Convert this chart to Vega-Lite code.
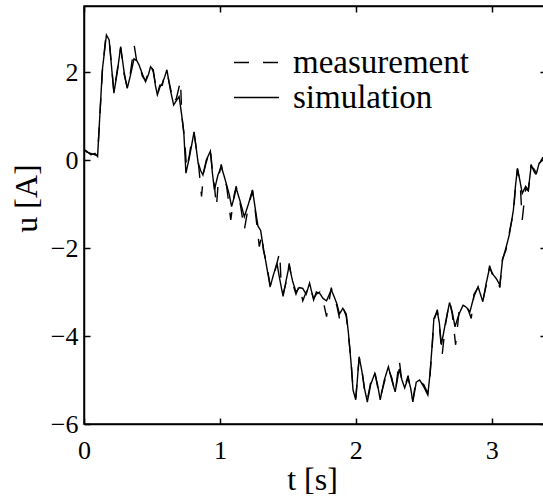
{
 "$schema": "https://vega.github.io/schema/vega-lite/v6.json",
 "width": 462,
 "height": 418,
 "autosize": {"type": "none"},
 "padding": {"left": 84, "top": 6, "right": 0, "bottom": 78},
 "background": "white",
 "config": {
  "view": {"stroke": "black", "strokeWidth": 1.5},
  "font": "Liberation Serif",
  "axis": {
   "domainColor": "black", "domainWidth": 1.5, "tickColor": "black", "tickWidth": 1.5, "tickSize": -6,
   "labelFont": "Liberation Serif", "labelFontSize": 26, "labelColor": "black", "labelFlush": false,
   "titleFont": "Liberation Serif", "titleFontSize": 32, "titleFontWeight": "normal", "titleColor": "black",
   "grid": false
  },
  "legend": {"labelFont": "Liberation Serif"}
 },
 "data": {"values": [
  {"t":0.0,"u":0.22,"s":"simulation"},{"t":0.02,"u":0.2,"s":"simulation"},{"t":0.05,"u":0.12,"s":"simulation"},{"t":0.08,"u":0.15,"s":"simulation"},{"t":0.1,"u":0.08,"s":"simulation"},{"t":0.135,"u":2.05,"s":"simulation"},{"t":0.165,"u":2.84,"s":"simulation"},{"t":0.185,"u":2.73,"s":"simulation"},{"t":0.22,"u":1.52,"s":"simulation"},{"t":0.245,"u":2.0,"s":"simulation"},{"t":0.27,"u":2.58,"s":"simulation"},{"t":0.295,"u":2.0,"s":"simulation"},{"t":0.318,"u":1.63,"s":"simulation"},{"t":0.34,"u":1.9,"s":"simulation"},{"t":0.368,"u":2.3,"s":"simulation"},{"t":0.39,"u":2.25,"s":"simulation"},{"t":0.405,"u":2.16,"s":"simulation"},{"t":0.43,"u":1.95,"s":"simulation"},{"t":0.453,"u":1.78,"s":"simulation"},{"t":0.475,"u":1.95,"s":"simulation"},{"t":0.49,"u":2.12,"s":"simulation"},{"t":0.51,"u":2.05,"s":"simulation"},{"t":0.525,"u":1.7,"s":"simulation"},{"t":0.54,"u":1.48,"s":"simulation"},{"t":0.558,"u":1.65,"s":"simulation"},{"t":0.576,"u":1.74,"s":"simulation"},{"t":0.595,"u":1.9,"s":"simulation"},{"t":0.61,"u":2.05,"s":"simulation"},{"t":0.635,"u":1.6,"s":"simulation"},{"t":0.66,"u":1.25,"s":"simulation"},{"t":0.68,"u":1.35,"s":"simulation"},{"t":0.7,"u":1.44,"s":"simulation"},{"t":0.72,"u":1.0,"s":"simulation"},{"t":0.735,"u":0.6,"s":"simulation"},{"t":0.75,"u":-0.3,"s":"simulation"},{"t":0.775,"u":0.05,"s":"simulation"},{"t":0.79,"u":0.3,"s":"simulation"},{"t":0.81,"u":0.64,"s":"simulation"},{"t":0.84,"u":-0.07,"s":"simulation"},{"t":0.86,"u":-0.25,"s":"simulation"},{"t":0.875,"u":-0.34,"s":"simulation"},{"t":0.9,"u":0.0,"s":"simulation"},{"t":0.93,"u":0.2,"s":"simulation"},{"t":0.945,"u":-0.3,"s":"simulation"},{"t":0.96,"u":-0.68,"s":"simulation"},{"t":0.985,"u":-0.35,"s":"simulation"},{"t":1.01,"u":-0.15,"s":"simulation"},{"t":1.03,"u":-0.35,"s":"simulation"},{"t":1.05,"u":-0.57,"s":"simulation"},{"t":1.07,"u":-0.8,"s":"simulation"},{"t":1.086,"u":-1.06,"s":"simulation"},{"t":1.105,"u":-0.85,"s":"simulation"},{"t":1.12,"u":-0.64,"s":"simulation"},{"t":1.15,"u":-0.95,"s":"simulation"},{"t":1.18,"u":-1.29,"s":"simulation"},{"t":1.21,"u":-1.0,"s":"simulation"},{"t":1.24,"u":-0.68,"s":"simulation"},{"t":1.26,"u":-1.1,"s":"simulation"},{"t":1.28,"u":-1.5,"s":"simulation"},{"t":1.3,"u":-1.6,"s":"simulation"},{"t":1.32,"u":-2.0,"s":"simulation"},{"t":1.34,"u":-2.35,"s":"simulation"},{"t":1.37,"u":-2.88,"s":"simulation"},{"t":1.395,"u":-2.6,"s":"simulation"},{"t":1.42,"u":-2.35,"s":"simulation"},{"t":1.44,"u":-2.7,"s":"simulation"},{"t":1.465,"u":-3.1,"s":"simulation"},{"t":1.49,"u":-2.7,"s":"simulation"},{"t":1.51,"u":-2.4,"s":"simulation"},{"t":1.535,"u":-2.75,"s":"simulation"},{"t":1.56,"u":-3.0,"s":"simulation"},{"t":1.585,"u":-2.9,"s":"simulation"},{"t":1.61,"u":-2.92,"s":"simulation"},{"t":1.635,"u":-3.05,"s":"simulation"},{"t":1.66,"u":-2.8,"s":"simulation"},{"t":1.69,"u":-3.18,"s":"simulation"},{"t":1.71,"u":-3.0,"s":"simulation"},{"t":1.735,"u":-3.03,"s":"simulation"},{"t":1.76,"u":-3.15,"s":"simulation"},{"t":1.785,"u":-3.2,"s":"simulation"},{"t":1.82,"u":-2.95,"s":"simulation"},{"t":1.84,"u":-3.1,"s":"simulation"},{"t":1.86,"u":-3.26,"s":"simulation"},{"t":1.88,"u":-3.5,"s":"simulation"},{"t":1.905,"u":-3.37,"s":"simulation"},{"t":1.93,"u":-3.5,"s":"simulation"},{"t":1.945,"u":-3.9,"s":"simulation"},{"t":1.965,"u":-4.6,"s":"simulation"},{"t":1.98,"u":-5.23,"s":"simulation"},{"t":2.0,"u":-5.45,"s":"simulation"},{"t":2.025,"u":-4.47,"s":"simulation"},{"t":2.045,"u":-4.8,"s":"simulation"},{"t":2.065,"u":-5.2,"s":"simulation"},{"t":2.085,"u":-5.5,"s":"simulation"},{"t":2.11,"u":-5.1,"s":"simulation"},{"t":2.14,"u":-4.85,"s":"simulation"},{"t":2.16,"u":-5.1,"s":"simulation"},{"t":2.18,"u":-5.45,"s":"simulation"},{"t":2.21,"u":-5.0,"s":"simulation"},{"t":2.24,"u":-4.7,"s":"simulation"},{"t":2.265,"u":-5.0,"s":"simulation"},{"t":2.29,"u":-5.27,"s":"simulation"},{"t":2.32,"u":-4.75,"s":"simulation"},{"t":2.34,"u":-5.0,"s":"simulation"},{"t":2.36,"u":-5.18,"s":"simulation"},{"t":2.385,"u":-4.95,"s":"simulation"},{"t":2.405,"u":-5.2,"s":"simulation"},{"t":2.42,"u":-5.5,"s":"simulation"},{"t":2.445,"u":-5.05,"s":"simulation"},{"t":2.47,"u":-5.0,"s":"simulation"},{"t":2.5,"u":-5.15,"s":"simulation"},{"t":2.53,"u":-5.34,"s":"simulation"},{"t":2.545,"u":-4.9,"s":"simulation"},{"t":2.56,"u":-4.3,"s":"simulation"},{"t":2.575,"u":-3.6,"s":"simulation"},{"t":2.6,"u":-3.45,"s":"simulation"},{"t":2.615,"u":-3.7,"s":"simulation"},{"t":2.63,"u":-4.2,"s":"simulation"},{"t":2.66,"u":-3.7,"s":"simulation"},{"t":2.69,"u":-3.24,"s":"simulation"},{"t":2.71,"u":-3.45,"s":"simulation"},{"t":2.73,"u":-3.79,"s":"simulation"},{"t":2.76,"u":-3.5,"s":"simulation"},{"t":2.79,"u":-3.3,"s":"simulation"},{"t":2.815,"u":-3.35,"s":"simulation"},{"t":2.84,"u":-3.45,"s":"simulation"},{"t":2.87,"u":-3.1,"s":"simulation"},{"t":2.9,"u":-2.88,"s":"simulation"},{"t":2.935,"u":-3.22,"s":"simulation"},{"t":2.96,"u":-2.8,"s":"simulation"},{"t":2.985,"u":-2.45,"s":"simulation"},{"t":3.01,"u":-2.6,"s":"simulation"},{"t":3.035,"u":-2.7,"s":"simulation"},{"t":3.06,"u":-2.84,"s":"simulation"},{"t":3.08,"u":-2.27,"s":"simulation"},{"t":3.105,"u":-2.0,"s":"simulation"},{"t":3.13,"u":-1.7,"s":"simulation"},{"t":3.16,"u":-1.14,"s":"simulation"},{"t":3.175,"u":-0.6,"s":"simulation"},{"t":3.19,"u":-0.19,"s":"simulation"},{"t":3.21,"u":-0.5,"s":"simulation"},{"t":3.225,"u":-0.76,"s":"simulation"},{"t":3.25,"u":-0.6,"s":"simulation"},{"t":3.27,"u":-0.68,"s":"simulation"},{"t":3.29,"u":-0.15,"s":"simulation"},{"t":3.31,"u":-0.2,"s":"simulation"},{"t":3.33,"u":-0.3,"s":"simulation"},{"t":3.35,"u":-0.07,"s":"simulation"},{"t":3.375,"u":0.0,"s":"simulation"},{"t":3.4,"u":0.05,"s":"simulation"},
  {"t":0.0,"u":0.25,"s":"measurement"},{"t":0.02,"u":0.18,"s":"measurement"},{"t":0.05,"u":0.15,"s":"measurement"},{"t":0.08,"u":0.12,"s":"measurement"},{"t":0.1,"u":0.1,"s":"measurement"},{"t":0.135,"u":2.0,"s":"measurement"},{"t":0.16,"u":2.8,"s":"measurement"},{"t":0.185,"u":2.75,"s":"measurement"},{"t":0.22,"u":1.55,"s":"measurement"},{"t":0.245,"u":2.05,"s":"measurement"},{"t":0.27,"u":2.55,"s":"measurement"},{"t":0.295,"u":1.95,"s":"measurement"},{"t":0.318,"u":1.65,"s":"measurement"},{"t":0.34,"u":1.95,"s":"measurement"},{"t":0.37,"u":2.6,"s":"measurement"},{"t":0.39,"u":2.2,"s":"measurement"},{"t":0.405,"u":2.2,"s":"measurement"},{"t":0.43,"u":1.9,"s":"measurement"},{"t":0.453,"u":1.8,"s":"measurement"},{"t":0.475,"u":2.0,"s":"measurement"},{"t":0.49,"u":2.15,"s":"measurement"},{"t":0.51,"u":2.0,"s":"measurement"},{"t":0.525,"u":1.75,"s":"measurement"},{"t":0.54,"u":1.5,"s":"measurement"},{"t":0.558,"u":1.7,"s":"measurement"},{"t":0.576,"u":1.7,"s":"measurement"},{"t":0.595,"u":1.95,"s":"measurement"},{"t":0.61,"u":2.0,"s":"measurement"},{"t":0.635,"u":1.65,"s":"measurement"},{"t":0.66,"u":1.3,"s":"measurement"},{"t":0.68,"u":1.4,"s":"measurement"},{"t":0.71,"u":1.8,"s":"measurement"},{"t":0.72,"u":1.0,"s":"measurement"},{"t":0.74,"u":0.5,"s":"measurement"},{"t":0.755,"u":-0.2,"s":"measurement"},{"t":0.775,"u":0.1,"s":"measurement"},{"t":0.79,"u":0.4,"s":"measurement"},{"t":0.81,"u":0.6,"s":"measurement"},{"t":0.84,"u":0.0,"s":"measurement"},{"t":0.865,"u":-0.83,"s":"measurement"},{"t":0.88,"u":-0.3,"s":"measurement"},{"t":0.9,"u":-0.05,"s":"measurement"},{"t":0.93,"u":0.25,"s":"measurement"},{"t":0.945,"u":-0.25,"s":"measurement"},{"t":0.96,"u":-0.6,"s":"measurement"},{"t":0.975,"u":-1.06,"s":"measurement"},{"t":0.99,"u":-0.4,"s":"measurement"},{"t":1.01,"u":-0.1,"s":"measurement"},{"t":1.03,"u":-0.4,"s":"measurement"},{"t":1.05,"u":-0.6,"s":"measurement"},{"t":1.08,"u":-1.36,"s":"measurement"},{"t":1.105,"u":-0.8,"s":"measurement"},{"t":1.12,"u":-0.6,"s":"measurement"},{"t":1.15,"u":-1.0,"s":"measurement"},{"t":1.18,"u":-1.59,"s":"measurement"},{"t":1.21,"u":-1.05,"s":"measurement"},{"t":1.24,"u":-0.7,"s":"measurement"},{"t":1.26,"u":-1.15,"s":"measurement"},{"t":1.29,"u":-1.97,"s":"measurement"},{"t":1.31,"u":-1.7,"s":"measurement"},{"t":1.32,"u":-2.05,"s":"measurement"},{"t":1.34,"u":-2.3,"s":"measurement"},{"t":1.37,"u":-2.85,"s":"measurement"},{"t":1.395,"u":-2.65,"s":"measurement"},{"t":1.44,"u":-2.1,"s":"measurement"},{"t":1.45,"u":-2.75,"s":"measurement"},{"t":1.465,"u":-3.05,"s":"measurement"},{"t":1.49,"u":-2.75,"s":"measurement"},{"t":1.51,"u":-2.35,"s":"measurement"},{"t":1.535,"u":-2.8,"s":"measurement"},{"t":1.56,"u":-3.05,"s":"measurement"},{"t":1.585,"u":-2.85,"s":"measurement"},{"t":1.61,"u":-3.2,"s":"measurement"},{"t":1.635,"u":-3.0,"s":"measurement"},{"t":1.66,"u":-2.85,"s":"measurement"},{"t":1.69,"u":-3.15,"s":"measurement"},{"t":1.71,"u":-3.05,"s":"measurement"},{"t":1.735,"u":-3.0,"s":"measurement"},{"t":1.76,"u":-3.2,"s":"measurement"},{"t":1.785,"u":-3.56,"s":"measurement"},{"t":1.82,"u":-2.9,"s":"measurement"},{"t":1.84,"u":-3.15,"s":"measurement"},{"t":1.86,"u":-3.3,"s":"measurement"},{"t":1.88,"u":-3.6,"s":"measurement"},{"t":1.905,"u":-3.35,"s":"measurement"},{"t":1.93,"u":-3.55,"s":"measurement"},{"t":1.945,"u":-3.95,"s":"measurement"},{"t":1.965,"u":-4.55,"s":"measurement"},{"t":1.98,"u":-5.2,"s":"measurement"},{"t":2.0,"u":-5.4,"s":"measurement"},{"t":2.025,"u":-4.5,"s":"measurement"},{"t":2.045,"u":-4.75,"s":"measurement"},{"t":2.065,"u":-5.25,"s":"measurement"},{"t":2.085,"u":-5.45,"s":"measurement"},{"t":2.11,"u":-5.05,"s":"measurement"},{"t":2.14,"u":-4.8,"s":"measurement"},{"t":2.16,"u":-5.15,"s":"measurement"},{"t":2.18,"u":-5.4,"s":"measurement"},{"t":2.21,"u":-5.05,"s":"measurement"},{"t":2.24,"u":-4.75,"s":"measurement"},{"t":2.265,"u":-4.95,"s":"measurement"},{"t":2.29,"u":-5.3,"s":"measurement"},{"t":2.32,"u":-4.55,"s":"measurement"},{"t":2.34,"u":-5.05,"s":"measurement"},{"t":2.36,"u":-5.15,"s":"measurement"},{"t":2.385,"u":-4.9,"s":"measurement"},{"t":2.405,"u":-5.25,"s":"measurement"},{"t":2.42,"u":-5.45,"s":"measurement"},{"t":2.445,"u":-5.0,"s":"measurement"},{"t":2.47,"u":-5.05,"s":"measurement"},{"t":2.5,"u":-5.1,"s":"measurement"},{"t":2.53,"u":-5.3,"s":"measurement"},{"t":2.545,"u":-4.95,"s":"measurement"},{"t":2.56,"u":-4.35,"s":"measurement"},{"t":2.575,"u":-3.65,"s":"measurement"},{"t":2.6,"u":-3.4,"s":"measurement"},{"t":2.615,"u":-3.75,"s":"measurement"},{"t":2.635,"u":-4.45,"s":"measurement"},{"t":2.66,"u":-3.75,"s":"measurement"},{"t":2.69,"u":-3.2,"s":"measurement"},{"t":2.71,"u":-3.5,"s":"measurement"},{"t":2.735,"u":-4.2,"s":"measurement"},{"t":2.76,"u":-3.45,"s":"measurement"},{"t":2.79,"u":-3.35,"s":"measurement"},{"t":2.815,"u":-3.3,"s":"measurement"},{"t":2.85,"u":-3.6,"s":"measurement"},{"t":2.87,"u":-3.05,"s":"measurement"},{"t":2.9,"u":-2.9,"s":"measurement"},{"t":2.935,"u":-3.2,"s":"measurement"},{"t":2.96,"u":-2.85,"s":"measurement"},{"t":2.985,"u":-2.4,"s":"measurement"},{"t":3.01,"u":-2.65,"s":"measurement"},{"t":3.035,"u":-2.65,"s":"measurement"},{"t":3.06,"u":-2.9,"s":"measurement"},{"t":3.08,"u":-2.25,"s":"measurement"},{"t":3.105,"u":-2.05,"s":"measurement"},{"t":3.13,"u":-1.65,"s":"measurement"},{"t":3.16,"u":-1.2,"s":"measurement"},{"t":3.175,"u":-0.65,"s":"measurement"},{"t":3.19,"u":-0.2,"s":"measurement"},{"t":3.21,"u":-0.55,"s":"measurement"},{"t":3.225,"u":-1.36,"s":"measurement"},{"t":3.25,"u":-0.65,"s":"measurement"},{"t":3.27,"u":-0.7,"s":"measurement"},{"t":3.29,"u":-0.1,"s":"measurement"},{"t":3.31,"u":-0.25,"s":"measurement"},{"t":3.33,"u":-0.35,"s":"measurement"},{"t":3.35,"u":-0.1,"s":"measurement"},{"t":3.375,"u":0.05,"s":"measurement"},{"t":3.4,"u":0.0,"s":"measurement"}
 ]},
 "layer": [
  {
   "mark": {"type": "line", "color": "black", "strokeWidth": 1.4, "clip": true},
   "encoding": {
    "x": {"field": "t", "type": "quantitative", "scale": {"domain": [0, 3.4], "nice": false, "zero": false},
          "axis": {"orient": "bottom", "values": [0, 1, 2, 3], "title": "t [s]", "labelPadding": 19, "titleX": 228, "titleY": 40, "titleAnchor": "middle", "titleAlign": "center", "titleBaseline": "top"}},
    "y": {"field": "u", "type": "quantitative", "scale": {"domain": [-6, 3.5], "nice": false, "zero": false},
          "axis": {"orient": "left", "values": [-6, -4, -2, 0, 2], "title": "u [A]", "labelPadding": 12, "titleX": -41, "titleY": 192, "titleAngle": -90, "titleAlign": "center", "titleBaseline": "bottom"}},
    "strokeDash": {"field": "s", "type": "nominal",
      "scale": {"domain": ["measurement", "simulation"], "range": [[15, 14], [1, 0]]},
      "legend": {"orient": "none", "legendX": 149, "legendY": 39, "title": null, "symbolType": "stroke", "symbolSize": 2025, "symbolStrokeColor": "black", "symbolStrokeWidth": 1.5, "labelFontSize": 33, "labelColor": "black", "labelLimit": 400, "labelOffset": 13, "rowPadding": 0, "clipHeight": 35, "padding": 0}}
   }
  },
  {
   "mark": {"type": "point", "opacity": 0},
   "encoding": {
    "x": {"field": "t", "type": "quantitative", "axis": {"orient": "top", "values": [0, 1, 2, 3], "labels": false, "title": null}},
    "y": {"field": "u", "type": "quantitative", "axis": {"orient": "right", "values": [-6, -4, -2, 0, 2], "labels": false, "title": null}}
   }
  }
 ]
}
